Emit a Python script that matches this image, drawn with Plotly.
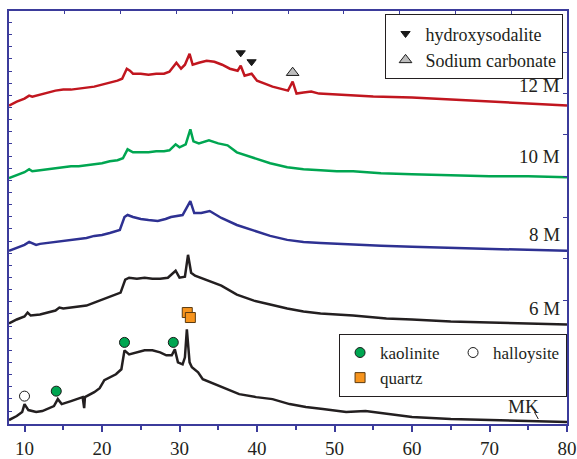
import plotly.graph_objects as go

# ---- data (2theta in degrees, intensity in arbitrary offset units) ----
mk_x = [8, 9, 9.7, 10.0, 10.5, 11.5, 12.3, 13, 13.8, 14.3, 14.8, 16, 17.5, 17.7, 17.8, 19, 19.7, 20.3, 21,
        21.8, 22.5, 22.9, 23.5, 24.5, 25.5, 26.5, 27.5, 28.3, 29.0, 29.4, 29.8, 30.4, 30.7, 30.95, 31.3,
        31.6, 32.4, 33, 35.6, 37.7, 39.9, 42, 44.2, 46.3, 48.5, 51.5, 54, 57, 60, 65, 70, 75, 80]
mk_y = [4, 8, 12, 20, 14, 12, 13, 15, 18, 25, 20, 23, 27, 16, 27, 32, 36, 44, 47,
        50, 55, 74, 70, 72, 74, 74, 72, 69, 69, 75, 62, 60, 67, 95, 62,
        57, 52, 45, 37, 30, 27, 25, 20, 17, 15, 12, 13, 10, 7, 5, 4, 3, 2]

m6_x = [8, 9, 10, 10.4, 10.8, 12, 13, 14, 14.5, 15, 16, 17, 18, 19, 20, 20.5, 21.5, 22.4, 23, 23.5,
        24.5, 25.5, 26.5, 27.5, 28.5, 29.5, 30, 30.7, 31.1, 31.5, 32, 33.4, 35.4, 37.4, 39.6, 41.7,
        43.9, 46, 48.2, 52.4, 56.7, 60, 65, 70, 75, 80]
m6_y = [101, 105, 108, 112, 109, 110, 112, 114, 117, 116, 117, 118, 119, 122, 125, 127, 130, 132, 145, 147,
        146, 147, 146, 146, 147, 154, 147, 148, 170, 152, 149, 145, 139, 130, 124, 120,
        116, 113, 111, 109, 106, 105, 103, 102, 101, 100]

m8_x = [8, 9, 10, 10.6, 11.5, 12, 13, 14, 15.4, 16, 17, 18, 19, 20, 21, 22.3, 22.9, 23.3, 24, 25, 26,
        27.2, 28.2, 28.9, 30.4, 31.4, 31.9, 32.8, 33.9, 35.4, 37.4, 39.6, 41.7, 43.9, 46, 48.2, 52.4,
        56, 60, 65, 70, 75, 80]
m8_y = [174, 177, 180, 183, 180, 181, 182, 183, 184, 185, 186, 187, 189, 190, 192, 195, 208, 210, 208, 206, 205,
        204, 206, 208, 210, 224, 212, 212, 214, 207, 200, 194, 189, 185, 183, 182, 180,
        179, 178, 177, 176, 175, 174]

m10_x = [8, 9, 10, 10.6, 11, 12, 13, 14, 15, 16, 17, 18, 19, 20, 21, 22, 22.7, 23.3, 24, 25, 26, 27, 28,
         28.7, 29.5, 30, 30.8, 31.4, 31.8, 32.5, 33.8, 35, 36.2, 37.4, 38.5, 39.6, 41.7, 43.9, 46, 48.2,
         50.3, 52.4, 56, 60, 65, 70, 75, 80]
m10_y = [247, 250, 253, 256, 254, 255, 256, 257, 258, 259, 259, 260, 261, 262, 264, 265, 267, 276, 273, 273, 273, 274, 274,
         275, 281, 278, 281, 296, 284, 282, 285, 282, 280, 273, 270, 267, 262, 258, 256, 255,
         254, 254, 252, 251, 250, 249, 249, 248]

m12_x = [8, 9, 10, 10.6, 11, 12, 13, 14, 15, 16, 17, 18, 19, 20, 21, 22, 22.6, 23.2, 23.6, 24, 25, 26, 27,
         28, 28.7, 29.6, 30.2, 30.7, 31.3, 31.7, 32.5, 33.5, 34.5, 35.5, 36.5, 37.5, 37.9, 38.4, 39.3, 40,
         41, 42, 43, 44, 44.6, 45.1, 46, 47, 48, 50, 52, 55, 60, 65, 70, 75, 80]
m12_y = [320, 324, 327, 330, 329, 331, 333, 335, 336, 336, 337, 338, 339, 341, 343, 345, 347, 357, 355, 352, 352, 351, 352,
         352, 354, 363, 357, 361, 372, 361, 363, 365, 364, 361, 357, 355, 360, 350, 352, 345,
         342, 339, 337, 335, 344, 332, 333, 334, 332, 331, 330, 329, 328, 326, 324, 322, 320]

# phase markers (2theta, intensity)
hyd_x, hyd_y = [37.9, 39.3], [373, 364]
nac_x, nac_y = [44.6], [353]
kao_x, kao_y = [14.1, 22.9, 29.2], [33, 82, 82]
hal_x, hal_y = [10.0], [28]
qtz_x, qtz_y = [31.0, 31.4], [112, 107]

series = [
    ("MK", mk_x, mk_y, "#231f20"),
    ("6 M", m6_x, m6_y, "#231f20"),
    ("8 M", m8_x, m8_y, "#2e3192"),
    ("10 M", m10_x, m10_y, "#00a651"),
    ("12 M", m12_x, m12_y, "#c1161f"),
]
label_pos = {"MK": (76.6, 18), "6 M": (79.3, 116), "8 M": (79.3, 190), "10 M": (79.3, 269), "12 M": (79.3, 340)}

AX = "#3b3b9b"
FONT = "Liberation Serif, Times New Roman, serif"

fig = go.Figure()
for name, xs, ys, col in series:
    fig.add_trace(go.Scatter(x=xs, y=ys, mode="lines", line=dict(color=col, width=2.5),
                             showlegend=False, hoverinfo="skip"))

fig.add_trace(go.Scatter(x=hyd_x, y=hyd_y, mode="markers", name="hydroxysodalite",
                         marker=dict(symbol="triangle-down", size=8, color="#1a1a1a",
                                     line=dict(color="#1a1a1a", width=1)), legend="legend"))
fig.add_trace(go.Scatter(x=nac_x, y=nac_y, mode="markers", name="Sodium carbonate",
                         marker=dict(symbol="triangle-up", size=11, color="#bdbdbd",
                                     line=dict(color="#1a1a1a", width=1)), legend="legend"))
fig.add_trace(go.Scatter(x=kao_x, y=kao_y, mode="markers", name="kaolinite",
                         marker=dict(symbol="circle", size=10, color="#00a651",
                                     line=dict(color="#1a1a1a", width=1)), legend="legend2"))
fig.add_trace(go.Scatter(x=hal_x, y=hal_y, mode="markers", name="halloysite",
                         marker=dict(symbol="circle", size=10, color="white",
                                     line=dict(color="#1a1a1a", width=1)), legend="legend2"))
fig.add_trace(go.Scatter(x=qtz_x, y=qtz_y, mode="markers", name="quartz",
                         marker=dict(symbol="square", size=10, color="#f7941d",
                                     line=dict(color="#5a3a10", width=1)), legend="legend2"))

# dummy trace to activate the mirror axes
fig.add_trace(go.Scatter(x=[None], y=[None], xaxis="x2", yaxis="y2", showlegend=False, hoverinfo="skip"))

for name, xs, ys, col in series:
    lx, ly = label_pos[name]
    fig.add_annotation(x=lx, y=ly, text=name, showarrow=False, xanchor="right", yanchor="middle",
                       font=dict(family=FONT, size=19, color="#231f20"))

fig.add_shape(type="line", x0=75.8, y0=12, x1=76.3, y1=5, line=dict(color="#231f20", width=1))

fig.update_layout(
    width=577, height=459,
    margin=dict(l=9, r=10, t=11, b=35, autoexpand=False),
    paper_bgcolor="white", plot_bgcolor="white",
    font=dict(family=FONT, size=19, color="#231f20"),
    xaxis=dict(range=[8, 80], tick0=10, dtick=10, ticks="outside", ticklen=6, tickwidth=1.5,
               tickcolor=AX, showline=True, linecolor=AX, linewidth=1.5, showgrid=False,
               zeroline=False, automargin=False,
               tickfont=dict(family=FONT, size=19, color="#231f20"),
               minor=dict(dtick=5, tick0=10, ticks="outside", ticklen=4, tickwidth=1.5, tickcolor=AX)),
    xaxis2=dict(overlaying="x", side="top", range=[0, 10], dtick=1, ticks="inside", ticklen=3,
                tickwidth=1, tickcolor=AX, showticklabels=False, showline=True, linecolor=AX,
                linewidth=1.5, showgrid=False, zeroline=False, automargin=False),
    yaxis=dict(range=[0, 415], tick0=13, dtick=12.2, ticks="inside", ticklen=3, tickwidth=1,
               tickcolor=AX, showticklabels=False, showline=True, linecolor=AX, linewidth=1.5,
               showgrid=False, zeroline=False, automargin=False),
    yaxis2=dict(overlaying="y", side="right", range=[0, 10], dtick=1, ticks="inside", ticklen=4,
                tickwidth=1, tickcolor=AX, showticklabels=False, showline=True, linecolor=AX,
                linewidth=1.5, showgrid=False, zeroline=False, automargin=False),
    legend=dict(x=0.992, y=0.992, xanchor="right", yanchor="top", bgcolor="white",
                bordercolor="#231f20", borderwidth=1,
                font=dict(family=FONT, size=18, color="#231f20"),
                itemwidth=30, tracegroupgap=0),
    legend2=dict(x=1.0001, y=0.218, xanchor="right", yanchor="top", orientation="h", bgcolor="white",
                 bordercolor="#231f20", borderwidth=1,
                 font=dict(family=FONT, size=17, color="#231f20"),
                 itemwidth=30, entrywidth=68),
)

fig.write_html("out.html")
